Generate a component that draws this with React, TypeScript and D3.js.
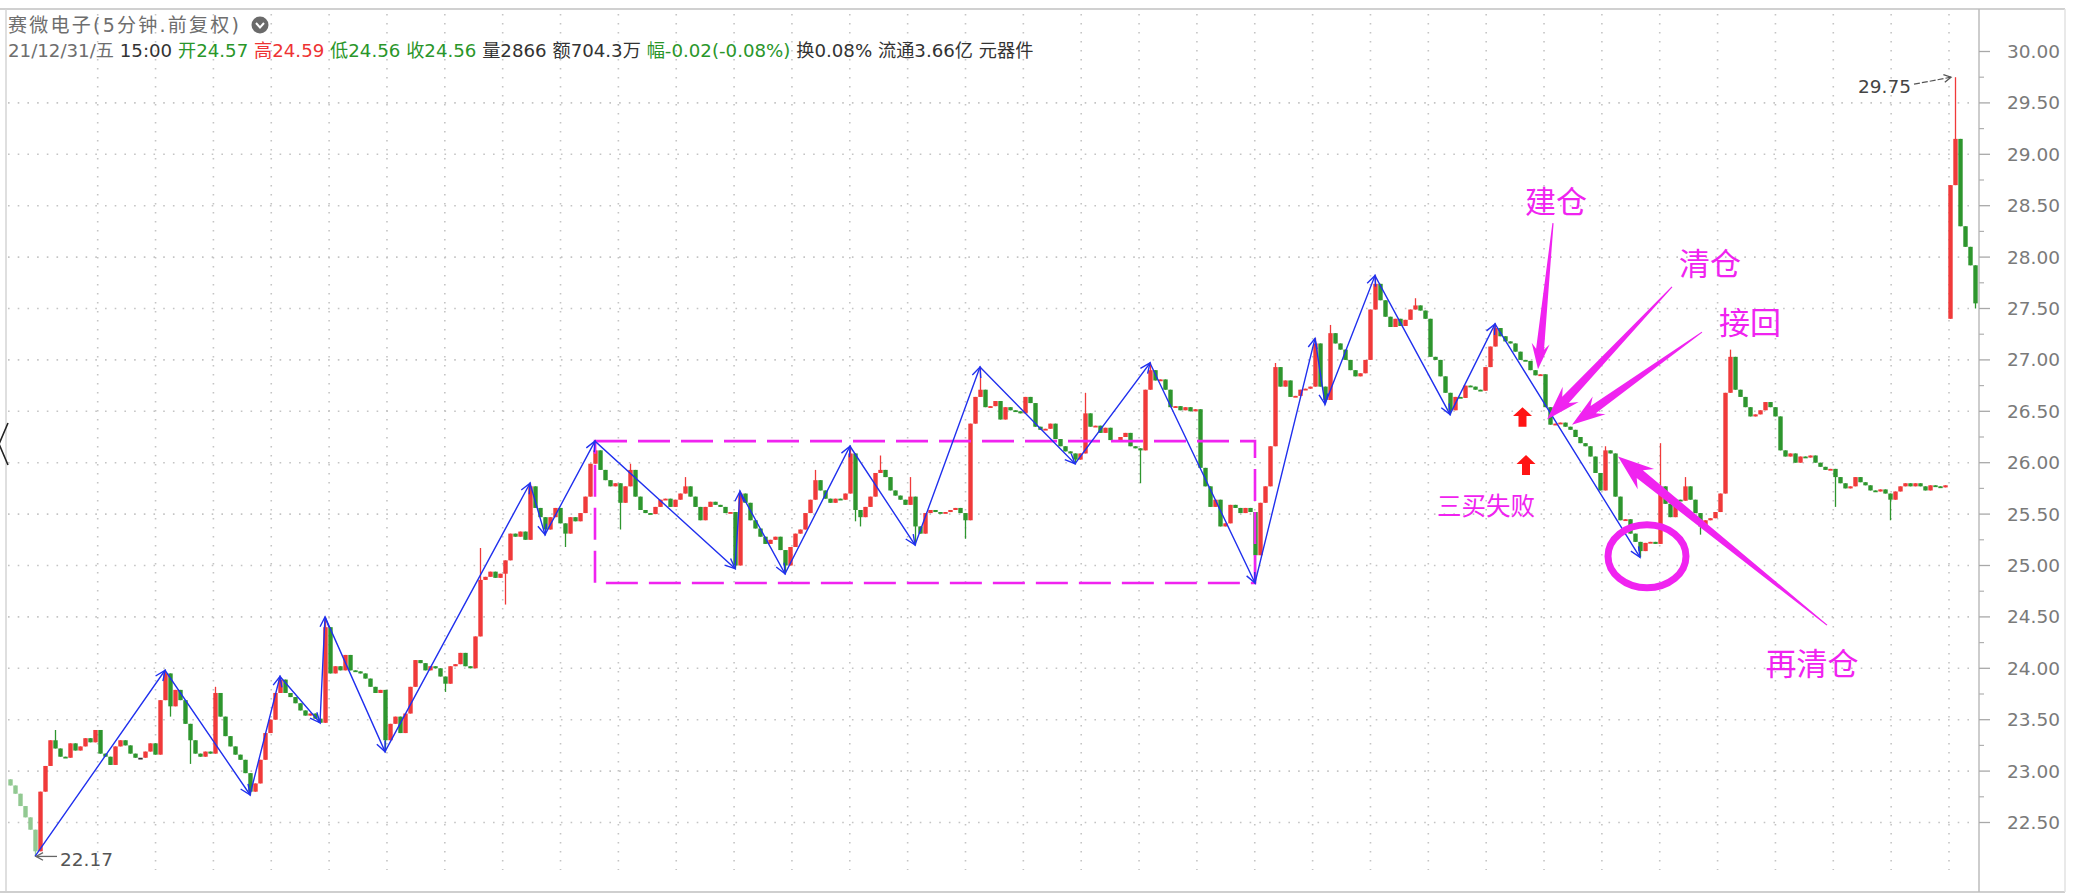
import React from "react";
import * as d3 from "d3";

// ---- price data (5-minute bars, closes; open = previous close) ----
const closes: number[] = [
  22.86,22.78,22.66,22.55,22.43,22.22,22.80,23.05,23.30,23.22,23.14,23.13,23.27,23.20,23.24,23.32,23.28,23.40,23.17,23.14,
  23.06,23.24,23.30,23.25,23.17,23.13,23.13,23.19,23.27,23.16,23.69,23.95,23.63,23.79,23.69,23.46,23.30,23.17,23.14,23.19,
  23.17,23.76,23.53,23.34,23.24,23.16,23.11,22.98,22.80,22.88,23.11,23.37,23.50,23.76,23.89,23.76,23.72,23.66,23.59,23.54,
  23.56,23.51,23.47,24.40,23.95,24.02,23.98,24.13,23.98,23.97,23.95,23.90,23.82,23.76,23.79,23.30,23.46,23.53,23.37,23.56,
  23.82,24.08,24.05,23.98,24.02,24.00,23.92,23.85,24.02,24.04,24.15,24.02,24.00,24.31,24.86,24.89,24.94,24.88,24.92,25.05,
  25.31,25.28,25.33,25.25,25.77,25.56,25.47,25.35,25.47,25.56,25.41,25.31,25.47,25.43,25.51,25.67,25.99,26.12,25.93,25.83,
  25.77,25.80,25.61,25.77,25.93,25.67,25.54,25.51,25.50,25.57,25.64,25.65,25.57,25.64,25.70,25.77,25.67,25.57,25.44,25.57,
  25.62,25.59,25.57,25.51,25.52,25.00,25.70,25.61,25.44,25.36,25.28,25.21,25.25,25.28,25.15,25.00,25.18,25.31,25.35,25.51,
  25.64,25.83,25.73,25.65,25.61,25.65,25.64,25.70,26.09,25.54,25.47,25.57,25.67,25.90,25.93,25.86,25.73,25.68,25.64,25.59,
  25.67,25.38,25.31,25.51,25.54,25.52,25.51,25.52,25.54,25.56,25.51,25.44,26.38,26.64,26.71,26.54,26.55,26.60,26.42,26.54,
  26.51,26.50,26.48,26.64,26.58,26.35,26.32,26.33,26.38,26.23,26.16,26.11,26.09,26.03,26.09,26.48,26.35,26.36,26.29,26.34,
  26.22,26.21,26.25,26.29,26.16,26.14,26.12,26.71,26.90,26.80,26.81,26.71,26.54,26.55,26.51,26.54,26.50,26.52,25.95,25.77,
  25.57,25.64,25.38,25.41,25.59,25.56,25.51,25.56,25.52,25.10,25.61,25.77,26.16,26.93,26.74,26.80,26.64,26.65,26.71,26.72,
  26.74,27.16,26.74,26.61,27.26,27.16,27.10,27.00,26.90,26.84,26.87,27.00,27.49,27.74,27.58,27.42,27.32,27.40,27.33,27.39,
  27.49,27.53,27.48,27.40,27.03,27.00,26.84,26.68,26.51,26.64,26.63,26.75,26.74,26.71,26.70,26.93,27.13,27.31,27.23,27.18,
  27.16,27.08,27.00,26.99,26.90,26.85,26.86,26.54,26.37,26.38,26.39,26.35,26.32,26.25,26.19,26.16,26.06,25.90,25.73,26.12,
  26.09,25.67,25.44,25.45,25.31,25.23,25.14,25.22,25.23,25.21,25.77,25.60,25.47,25.64,25.63,25.77,25.64,25.51,25.38,25.44,
  25.46,25.52,25.70,26.68,27.03,26.71,26.64,26.54,26.45,26.47,26.51,26.59,26.54,26.45,26.12,26.06,26.09,26.00,26.06,26.05,
  26.07,26.00,25.96,25.93,25.94,25.86,25.80,25.75,25.77,25.86,25.81,25.78,25.73,25.72,25.74,25.70,25.64,25.72,25.77,25.80,
  25.77,25.80,25.77,25.73,25.78,25.77,25.76,25.78,28.70,29.15,28.30,28.10,27.92,27.55,
];

// [bar index, price]
const wickHighs: [number, number][] = [
  [9,23.40],[31,23.98],[41,23.82],[54,23.92],[63,24.50],[94,25.17],[104,25.80],[117,26.21],[124,25.99],[135,25.86],
  [146,25.72],[161,25.93],[168,26.16],[174,26.07],[180,25.86],[194,26.93],[215,26.68],[228,26.97],[253,26.97],[261,27.21],
  [264,27.34],[273,27.82],[281,27.60],[297,27.35],[319,26.16],[330,26.19],[335,25.86],[344,27.10],[389,29.75],
];
const wickLows: [number, number][] = [
  [5,22.17],[32,23.53],[36,23.07],[48,22.77],[75,23.19],[87,23.77],[99,24.62],[107,25.30],[111,25.18],[122,25.35],
  [145,24.97],[155,24.92],[169,25.43],[170,25.38],[181,25.20],[191,25.26],[213,25.99],[226,25.80],[249,24.83],[263,26.57],
  [288,26.47],[326,25.08],[338,25.30],[365,25.57],[376,25.44],[388,27.40],[393,27.50],
];
const openOverrides: [number, number][] = [[0, 22.92],[388, 27.40]];
const fadedBars = 6;

// zig-zag pivots [bar index, price]
const pivots: [number, number][] = [
  [5,22.17],[31,23.98],[48,22.77],[54,23.92],[62,23.47],[63,24.50],[75,23.19],[104,25.80],[107,25.30],[117,26.21],
  [145,24.97],[146,25.72],[155,24.92],[168,26.16],[181,25.20],[194,26.93],[213,25.99],[228,26.97],[249,24.83],[261,27.21],
  [263,26.57],[273,27.82],[288,26.47],[297,27.35],[326,25.08],
];
const boxPivotA = 9;
const boxPivotB = 18;

const priceTicks = [22.5,23,23.5,24,24.5,25,25.5,26,26.5,27,27.5,28,28.5,29,29.5,30];
const gridPrices = [22.5,23,23.5,24,24.5,25,25.5,26,26.5,27,27.5,28,28.5,29,29.5];

const titleText = "赛微电子(5分钟.前复权)";
const infoTexts = ["21/12/31/五","15:00","开24.57","高24.59","低24.56","收24.56","量2866","额704.3万","幅-0.02(-0.08%)","换0.08%","流通3.66亿","元器件"];
const infoKinds = ["date","plain","down","up","down","down","plain","plain","down","plain","plain","plain"];

// annotations in data space: [bar index, price]
const callouts = [
  { text: "建仓", at: [309.2, 28.56], tail: [308.6, 28.33], tip: [305.6, 26.91] },
  { text: "清仓", at: [340.0, 27.96], tail: [332.4, 27.71], tip: [307.4, 26.42] },
  { text: "接回", at: [348.0, 27.38], tail: [338.4, 27.27], tip: [312.4, 26.37] },
  { text: "再清仓", at: [360.4, 24.07], tail: [363.4, 24.42], tip: [321.6, 26.06] },
];
const failText = "三买失败";
const failAt: [number, number] = [295.2, 25.59];
const buyArrows: [number, number, number][] = [[302.5, 26.54, 26.35],[303.2, 26.075, 25.88]];
const circleAt: [number, number] = [327.4, 25.09];

const UP = "#f03a3a", DOWN = "#2e962e", FLAT = "#333333";
const UP_F = "#f2a3a3", DOWN_F = "#92c992";
const MAG = "#f023f0";
const BLUE = "#2030ee";

function taper(tail: number[], tip: number[], headLen: number, headW: number, shaftW: number) {
  const dx = tip[0] - tail[0], dy = tip[1] - tail[1];
  const L = Math.hypot(dx, dy);
  const ux = dx / L, uy = dy / L, nx = -uy, ny = ux;
  const bx = tip[0] - ux * headLen, by = tip[1] - uy * headLen;
  const sw = headLen * 0.28;
  const pts = [
    [tail[0] + nx * 0.6, tail[1] + ny * 0.6],
    [bx + nx * shaftW / 2, by + ny * shaftW / 2],
    [bx - ux * sw + nx * headW / 2, by - uy * sw + ny * headW / 2],
    [tip[0], tip[1]],
    [bx - ux * sw - nx * headW / 2, by - uy * sw - ny * headW / 2],
    [bx - nx * shaftW / 2, by - ny * shaftW / 2],
    [tail[0] - nx * 0.6, tail[1] - ny * 0.6],
  ];
  return pts.map((p) => p[0].toFixed(1) + "," + p[1].toFixed(1)).join(" ");
}

function vHead(from: number[], to: number[], len = 11, ang = 0.42) {
  const dx = from[0] - to[0], dy = from[1] - to[1];
  const L = Math.hypot(dx, dy);
  const ux = dx / L, uy = dy / L;
  const c = Math.cos(ang), s = Math.sin(ang);
  const p1 = [to[0] + len * (ux * c - uy * s), to[1] + len * (ux * s + uy * c)];
  const p2 = [to[0] + len * (ux * c + uy * s), to[1] + len * (-ux * s + uy * c)];
  return `M${p1[0]},${p1[1]}L${to[0]},${to[1]}L${p2[0]},${p2[1]}`;
}

export default function App() {
  const W = 2079, H = 895;
  const plotL = 6, axisX = 1979, panelR = 2065, top = 9, bottom = 892;
  const x = d3.scaleLinear().domain([0, closes.length - 1]).range([10, 1975]);
  const y = d3.scaleLinear().domain([22.5, 30]).range([822.5, 51.5]);
  const gridX = d3.scaleLinear().domain([0, 32]).range([97.7, 1949]);

  const hiMap = new Map(wickHighs), loMap = new Map(wickLows), opMap = new Map(openOverrides);
  const bars = closes.map((c, i) => {
    const o = opMap.has(i) ? (opMap.get(i) as number) : i === 0 ? c : closes[i - 1];
    const hi = Math.max(o, c, hiMap.has(i) ? (hiMap.get(i) as number) : -Infinity);
    const lo = Math.min(o, c, loMap.has(i) ? (loMap.get(i) as number) : Infinity);
    const faded = i < fadedBars;
    const col = c > o ? (faded ? UP_F : UP) : c < o ? (faded ? DOWN_F : DOWN) : FLAT;
    return { i, o, c, hi, lo, col };
  });

  let minI = 0, maxI = 0;
  bars.forEach((b, i) => {
    if (b.lo < bars[minI].lo) minI = i;
    if (b.hi > bars[maxI].hi) maxI = i;
  });

  const pivPts = pivots.map(([i, p]) => [x(i), y(p)]);
  const zig = d3.line()(pivPts as [number, number][]) || "";
  const bx0 = x(pivots[boxPivotA][0]), by0 = y(pivots[boxPivotA][1]);
  const bx1 = x(pivots[boxPivotB][0]), by1 = y(pivots[boxPivotB][1]);

  const kindColor: Record<string, string> = { date: "#6e6e6e", plain: "#333", up: "#ee3333", down: "#2a962a" };
  const calloutSizes = [[20, 18, 8], [27, 22, 9], [26, 22, 9], [28, 26, 10]];

  const minPt = [x(minI), y(bars[minI].lo)];
  const maxPt = [x(maxI) - 3, y(bars[maxI].hi)];

  return (
    <svg width={W} height={H} style={{ position: "absolute", left: 0, top: 0, background: "#fff" }}>
      <rect x={0} y={0} width={W} height={H} fill="#fff" />
      {/* frame */}
      <line x1={0} x2={panelR} y1={top} y2={top} stroke="#d0d0d0" strokeWidth={2} />
      <line x1={plotL} x2={plotL} y1={top} y2={bottom} stroke="#d4d4d4" strokeWidth={1.5} />
      <line x1={0} x2={panelR} y1={bottom} y2={bottom} stroke="#cfcfcf" strokeWidth={2} />
      <line x1={panelR} x2={panelR} y1={top} y2={bottom} stroke="#e2e2e2" strokeWidth={1.5} />
      <line x1={axisX} x2={axisX} y1={top} y2={bottom} stroke="#bdbdbd" strokeWidth={1.5} />

      {/* grid */}
      {gridPrices.map((p) => (
        <line key={"h" + p} x1={plotL + 2} x2={axisX - 2} y1={y(p)} y2={y(p)} stroke="#c4c4c4" strokeWidth={1.6} strokeDasharray="1.6 8.1" />
      ))}
      {d3.range(33).map((k) => (
        <line key={"v" + k} x1={gridX(k)} x2={gridX(k)} y1={14} y2={870} stroke="#c4c4c4" strokeWidth={1.6} strokeDasharray="1.6 7.4" />
      ))}

      {/* axis */}
      {priceTicks.map((p) => (
        <g key={"t" + p}>
          <line x1={axisX} x2={axisX + 11} y1={y(p)} y2={y(p)} stroke="#a8a8a8" strokeWidth={1.3} />
          <text x={2007} y={y(p)} dominantBaseline="central" fontFamily="'DejaVu Sans'" fontSize={18.5} fill="#7a7a7a">
            {p.toFixed(2)}
          </text>
        </g>
      ))}
      {priceTicks.slice(0, -1).map((p) => (
        <line key={"m" + p} x1={axisX} x2={axisX + 5} y1={y(p + 0.25)} y2={y(p + 0.25)} stroke="#b0b0b0" strokeWidth={1.2} />
      ))}

      {/* candles */}
      {bars.map((b) => {
        const cx = Math.round(x(b.i)) + 0.5;
        const yt = y(Math.max(b.o, b.c)), yb = y(Math.min(b.o, b.c));
        return (
          <g key={"c" + b.i}>
            <line x1={cx} x2={cx} y1={y(b.hi)} y2={y(b.lo)} stroke={b.col} strokeWidth={1.3} />
            <rect x={cx - 2.2} y={yt} width={4.4} height={Math.max(1.8, yb - yt)} fill={b.col} />
          </g>
        );
      })}

      {/* dashed box */}
      <rect x={bx0} y={by0} width={bx1 - bx0} height={by1 - by0} fill="none" stroke={MAG} strokeWidth={2.6} strokeDasharray="32 11" />

      {/* zigzag */}
      <path d={zig} fill="none" stroke={BLUE} strokeWidth={1.4} />
      {pivPts.slice(1).map((p, k) => (
        <path key={"ah" + k} d={vHead(pivPts[k], p)} fill="none" stroke={BLUE} strokeWidth={1.4} />
      ))}

      {/* min / max labels */}
      <path d={`M${minPt[0] + 22},${minPt[1]}L${minPt[0] + 1},${minPt[1]}`} stroke="#666" strokeWidth={1.3} fill="none" />
      <path d={vHead([minPt[0] + 22, minPt[1]], [minPt[0] + 1, minPt[1]], 8, 0.5)} stroke="#666" strokeWidth={1.3} fill="none" />
      <text x={minPt[0] + 25} y={minPt[1] + 3} dominantBaseline="central" fontFamily="'DejaVu Sans'" fontSize={18.5} fill="#555">
        {bars[minI].lo.toFixed(2)}
      </text>
      <path d={`M${maxPt[0] - 38},${maxPt[1] + 7}L${maxPt[0] - 1},${maxPt[1]}`} stroke="#555" strokeWidth={1.2} fill="none" strokeDasharray="6 2" />
      <path d={vHead([maxPt[0] - 38, maxPt[1] + 7], [maxPt[0] - 1, maxPt[1]], 8, 0.5)} stroke="#555" strokeWidth={1.3} fill="none" />
      <text x={maxPt[0] - 41} y={maxPt[1] + 9} textAnchor="end" dominantBaseline="central" fontFamily="'DejaVu Sans'" fontSize={18.5} fill="#444">
        {bars[maxI].hi.toFixed(2)}
      </text>

      {/* callouts */}
      {callouts.map((c, k) => {
        const [hl, hw, sw] = calloutSizes[k];
        return (
          <g key={"co" + k}>
            <polygon points={taper([x(c.tail[0]), y(c.tail[1])], [x(c.tip[0]), y(c.tip[1])], hl, hw, sw)} fill={MAG} />
            <text x={x(c.at[0])} y={y(c.at[1])} textAnchor="middle" dominantBaseline="central" fontFamily="'Noto Sans CJK SC'" fontSize={31} fill={MAG}>
              {c.text}
            </text>
          </g>
        );
      })}
      <text x={x(failAt[0])} y={y(failAt[1])} textAnchor="middle" dominantBaseline="central" fontFamily="'Noto Sans CJK SC'" fontSize={24.5} fill={MAG}>
        {failText}
      </text>
      {buyArrows.map(([i, pt, pb], k) => {
        const cx = x(i), yt = y(pt), yb = y(pb);
        const hh = (yb - yt) * 0.45;
        return (
          <polygon key={"ba" + k} fill="#ff1414"
            points={`${cx},${yt} ${cx + 9.5},${yt + hh} ${cx + 4},${yt + hh} ${cx + 4},${yb} ${cx - 4},${yb} ${cx - 4},${yt + hh} ${cx - 9.5},${yt + hh}`} />
        );
      })}
      <ellipse cx={x(circleAt[0])} cy={y(circleAt[1])} rx={39} ry={31.5} fill="none" stroke={MAG} strokeWidth={7} />

      {/* left chevron */}
      <polyline points="8,423 -1,444 8,465" fill="none" stroke="#222" strokeWidth={1.6} />

      {/* header */}
      <text x={8} y={25} dominantBaseline="central" fontFamily="'DejaVu Sans','Noto Sans CJK SC'" fontSize={19} fill="#6e6e6e" textLength={231} lengthAdjust="spacing">
        {titleText}
      </text>
      <circle cx={260} cy={25} r={8.5} fill="#6a6a6a" />
      <polyline points="256,23 260,27.5 264,23" fill="none" stroke="#fff" strokeWidth={2} />
      <text x={8} y={50} dominantBaseline="central" fontFamily="'DejaVu Sans','Noto Sans CJK SC'" fontSize={18.2} style={{ whiteSpace: "pre" }}>
        {infoTexts.map((t, k) => (
          <tspan key={"hd" + k} fill={kindColor[infoKinds[k]]}>
            {(k > 0 ? " " : "") + t}
          </tspan>
        ))}
      </text>
    </svg>
  );
}
